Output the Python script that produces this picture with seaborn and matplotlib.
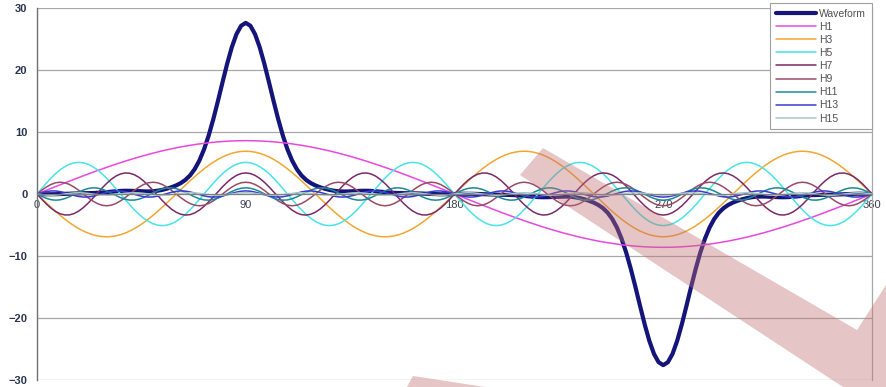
import numpy as np
import pandas as pd
import matplotlib
matplotlib.use('Agg')
import matplotlib.pyplot as plt
from matplotlib.patches import Polygon
import seaborn as sns

# Harmonic content (signed peak amplitude of each odd harmonic)
harmonic_labels = ['H1', 'H3', 'H5', 'H7', 'H9', 'H11', 'H13', 'H15']
harmonic_orders = [1, 3, 5, 7, 9, 11, 13, 15]
harmonic_amplitudes = [8.6, -6.9, 5.1, -3.4, 1.9, -1.0, 0.5, -0.2]
angles_deg = np.arange(0, 361, 2)

x_ticks = [0, 90, 180, 270, 360]
y_ticks = [-30, -20, -10, 0, 10, 20, 30]

colors = {
    'Waveform': '#14147a',
    'H1': '#e848e0',
    'H3': '#f0a830',
    'H5': '#48e4e8',
    'H7': '#7a2a6a',
    'H9': '#9a4a68',
    'H11': '#1a8a98',
    'H13': '#3a3ad0',
    'H15': '#a8c8c8',
}

# build the series table
rad = np.deg2rad(angles_deg)
df = pd.DataFrame({'angle': angles_deg})
for lab, n, a in zip(harmonic_labels, harmonic_orders, harmonic_amplitudes):
    df[lab] = a * np.sin(n * rad)
df['Waveform'] = df[harmonic_labels].sum(axis=1)

sns.set_theme(style='white')
plt.rcParams['font.family'] = ['Liberation Sans', 'DejaVu Sans']

fig = plt.figure(figsize=(8.86, 3.87), dpi=100)
ax = fig.add_axes([37 / 886, 1 - 380 / 387, (872 - 37) / 886, 372 / 387])

sns.lineplot(data=df, x='angle', y='Waveform', ax=ax, color=colors['Waveform'],
             linewidth=3.0, label='Waveform')
for lab in harmonic_labels:
    sns.lineplot(data=df, x='angle', y=lab, ax=ax, color=colors[lab],
                 linewidth=1.1, label=lab)

ax.set_xlim(0, 360)
ax.set_ylim(-30, 30)
ax.set_xticks(x_ticks)
ax.set_yticks(y_ticks)
ax.set_xlabel('')
ax.set_ylabel('')

ax.yaxis.grid(True, color='#a8a8a8', linewidth=0.9)
ax.xaxis.grid(False)
ax.set_axisbelow(True)

ax.spines['top'].set_visible(False)
ax.spines['right'].set_color('#a8a8a8')
ax.spines['right'].set_linewidth(0.9)
ax.spines['left'].set_color('#707070')
ax.spines['left'].set_linewidth(1.0)
ax.spines['bottom'].set_position(('data', 0))
ax.spines['bottom'].set_color('#808080')
ax.spines['bottom'].set_linewidth(0.8)

ax.tick_params(axis='y', direction='out', length=4, width=0.8, color='#707070',
               labelsize=8, labelcolor='#2a3450', pad=3)
ax.tick_params(axis='x', direction='inout', length=4, width=0.8, color='#808080',
               labelsize=8, labelcolor='#3a4050', pad=2)
for t in ax.get_yticklabels():
    t.set_fontweight('bold')

leg = ax.legend(loc='upper right', bbox_to_anchor=(1.0, 1.014), borderaxespad=0,
                fontsize=7.5, handlelength=3.9, labelspacing=0.3, handletextpad=0.3,
                borderpad=0.55, frameon=True, fancybox=False, framealpha=1)
leg.get_frame().set_edgecolor('#a0a0a0')
leg.get_frame().set_linewidth(0.8)
for t in leg.get_texts():
    t.set_color('#505050')

# pink watermark stroke over the chart (pixel positions of the reference)
def to_fig(pts):
    return [(x / 886, 1 - y / 387) for x, y in pts]

mark1 = [(543, 148), (857, 330), (886, 285), (886, 387), (843, 387), (520, 175)]
mark2 = [(407, 387), (413, 376), (485, 387)]
for pts in (mark1, mark2):
    fig.add_artist(Polygon(to_fig(pts), closed=True, transform=fig.transFigure,
                           facecolor='#c07070', edgecolor='none', alpha=0.4, zorder=10))

fig.savefig('out.png', dpi=100)
